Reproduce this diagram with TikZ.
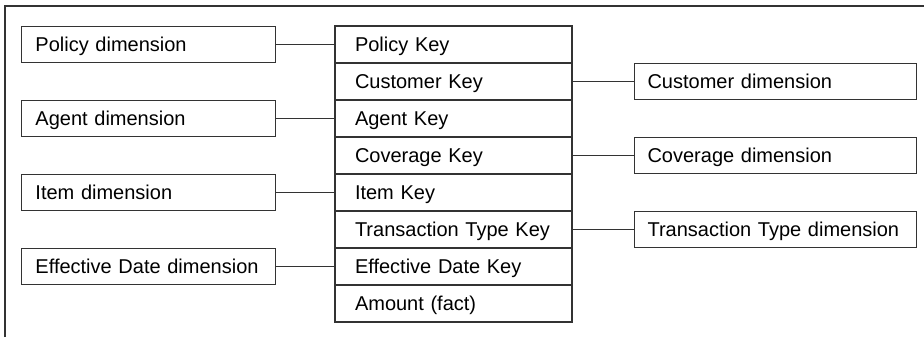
\documentclass[tikz,border=0pt]{standalone}
\usepackage{fontspec}
\setmainfont{Liberation Sans}
\usepackage{xcolor}
\usepackage{tikz}
\usetikzlibrary{positioning}
\definecolor{trait}{rgb}{0.2, 0.2, 0.2}
\tikzset{
  keyrow/.style={draw=trait, line width=0.8pt, minimum height=27.75pt, inner ysep=2pt, outer sep=0pt,
    inner xsep=15pt, text width=147.75pt, text height=10.75pt, text depth=0pt, align=left,
    font=\fontsize{15}{18}\selectfont},
  dimleft/.style={draw=trait, line width=0.8pt, minimum height=27pt, inner ysep=2pt,
    inner xsep=10.5pt, text width=169.5pt, text height=10.75pt, text depth=0pt, align=left,
    font=\fontsize{15}{18}\selectfont},
  dimright/.style={draw=trait, line width=0.8pt, minimum height=27.5pt, inner ysep=2pt,
    inner xsep=9.75pt, text width=192pt, text height=10.75pt, text depth=0pt, align=left,
    font=\fontsize{15}{18}\selectfont},
  link/.style={draw=trait, line width=0.8pt}
}

\begin{document}
\begin{tikzpicture}
    \useasboundingbox (0,0) rectangle (693pt,-252.75pt);

    % Cadre
    \draw[link] (3.75pt,-252.75pt) -- (3.75pt,-4.5pt) -- (693pt,-4.5pt);

    % Table des faits
    \node[keyrow, anchor=north west] (policykey) at (251.25pt,-19.5pt) {Policy Key};
    \node[keyrow, below=0pt of policykey] (customerkey) {Customer Key};
    \node[keyrow, below=0pt of customerkey] (agentkey) {Agent Key};
    \node[keyrow, below=0pt of agentkey] (coveragekey) {Coverage Key};
    \node[keyrow, below=0pt of coveragekey] (itemkey) {Item Key};
    \node[keyrow, below=0pt of itemkey] (transkey) {Transaction Type Key};
    \node[keyrow, below=0pt of transkey] (datekey) {Effective Date Key};
    \node[keyrow, below=0pt of datekey] (amount) {Amount (fact)};

    % Dimensions a gauche
    \node[dimleft, left=44.25pt of policykey] (policy) {Policy dimension};
    \node[dimleft, left=44.25pt of agentkey] (agent) {Agent dimension};
    \node[dimleft, left=44.25pt of itemkey] (item) {Item dimension};
    \node[dimleft, left=44.25pt of datekey] (date) {Effective Date dimension};

    % Dimensions a droite
    \node[dimright, right=46.5pt of customerkey] (customer) {Customer dimension};
    \node[dimright, right=46.5pt of coveragekey] (coverage) {Coverage dimension};
    \node[dimright, right=46.5pt of transkey] (trans) {Transaction Type dimension};

    % Liens
    \draw[link] (policy) -- (policykey);
    \draw[link] (agent) -- (agentkey);
    \draw[link] (item) -- (itemkey);
    \draw[link] (date) -- (datekey);
    \draw[link] (customerkey) -- (customer);
    \draw[link] (coveragekey) -- (coverage);
    \draw[link] (transkey) -- (trans);
\end{tikzpicture}
\end{document}
